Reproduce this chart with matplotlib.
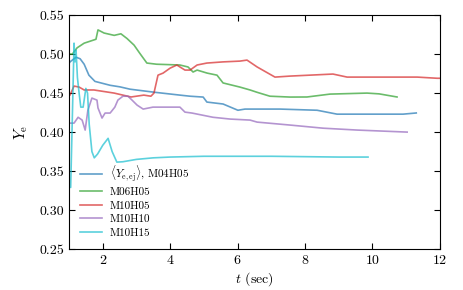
import matplotlib
matplotlib.use("Agg")
import matplotlib.pyplot as plt
import numpy as np

plt.rcParams['font.family'] = 'serif'
plt.rcParams['font.serif'] = ['cmr10']
plt.rcParams['mathtext.fontset'] = 'cm'
plt.rcParams['axes.unicode_minus'] = False
plt.rcParams['axes.formatter.use_mathtext'] = True

labels = [r'$\langle Y_{\rm e,ej}\rangle$, M04H05', 'M06H05', 'M10H05', 'M10H10', 'M10H15']
colors = ['tab:blue', 'tab:green', 'tab:red', 'tab:purple', 'tab:cyan']

t_m04h05 = [1.0, 1.03, 1.21, 1.33, 1.45, 1.59, 1.77, 2.22, 2.51, 2.81, 3.55, 4.29, 4.59, 4.98, 5.09,
            5.57, 6.01, 6.22, 7.26, 8.36, 8.95, 10.91, 11.30]
y_m04h05 = [0.488, 0.490, 0.496, 0.494, 0.487, 0.473, 0.465, 0.460, 0.458, 0.455, 0.451, 0.4474, 0.446,
            0.4449, 0.4385, 0.436, 0.428, 0.4295, 0.4295, 0.428, 0.423, 0.423, 0.4245]

t_m06h05 = [1.0, 1.1, 1.24, 1.45, 1.8, 1.86, 2.04, 2.34, 2.54, 2.72, 2.93, 3.1, 3.31, 3.6, 4.29, 4.53,
            4.68, 4.8, 5.1, 5.39, 5.57, 6.07, 6.37, 6.58, 6.96, 7.56, 8.06, 8.74, 9.84, 10.2, 10.73]
y_m06h05 = [0.500, 0.500, 0.508, 0.514, 0.519, 0.531, 0.527, 0.524, 0.526, 0.520, 0.5115, 0.501, 0.4885,
            0.487, 0.486, 0.4835, 0.477, 0.4795, 0.4756, 0.473, 0.463, 0.4577, 0.454, 0.451, 0.446,
            0.4449, 0.445, 0.4487, 0.450, 0.449, 0.445]

t_m10h05 = [1.0, 1.03, 1.15, 1.3, 1.45, 1.74, 2.34, 2.84, 3.22, 3.43, 3.52, 3.64, 3.79, 4.0, 4.2, 4.29,
            4.44, 4.59, 4.8, 5.09, 5.57, 6.07, 6.28, 6.58, 7.11, 7.56, 8.83, 9.25, 11.33, 11.92, 12.0]
y_m10h05 = [0.450, 0.4474, 0.459, 0.4577, 0.454, 0.454, 0.450, 0.445, 0.4474, 0.446, 0.450, 0.473,
            0.4756, 0.482, 0.486, 0.4835, 0.4795, 0.4795, 0.486, 0.4885, 0.490, 0.491, 0.4923, 0.4835,
            0.4705, 0.4718, 0.4744, 0.4705, 0.4705, 0.469, 0.469]

t_m10h10 = [1.0, 1.15, 1.27, 1.39, 1.48, 1.56, 1.68, 1.83, 1.86, 1.98, 2.07, 2.22, 2.36, 2.45, 2.6,
            2.75, 2.87, 3.02, 3.2, 3.49, 4.29, 4.44, 4.65, 5.27, 5.78, 6.37, 6.58, 7.56, 8.54, 9.55, 11.03]
y_m10h10 = [0.4115, 0.4115, 0.419, 0.4154, 0.4026, 0.428, 0.4436, 0.441, 0.431, 0.418, 0.4244, 0.4244,
            0.432, 0.441, 0.446, 0.446, 0.441, 0.4346, 0.4295, 0.432, 0.432, 0.4256, 0.4244, 0.419,
            0.4167, 0.4154, 0.4128, 0.409, 0.405, 0.4026, 0.400]

t_m10h15 = [1.0, 1.05, 1.1, 1.15, 1.18, 1.21, 1.25, 1.3, 1.35, 1.42, 1.5, 1.55, 1.6, 1.68, 1.75, 1.85,
            2.0, 2.16, 2.28, 2.42, 2.6, 3.0, 3.5, 4.0, 5.0, 6.0, 7.0, 8.0, 9.0, 9.87]
y_m10h15 = [0.338, 0.329, 0.42, 0.514, 0.49, 0.505, 0.47, 0.45, 0.432, 0.432, 0.456, 0.45, 0.41, 0.375,
            0.367, 0.372, 0.383, 0.392, 0.375, 0.3615, 0.362, 0.365, 0.367, 0.368, 0.369, 0.369, 0.369,
            0.3685, 0.368, 0.368]

series_t = [t_m04h05, t_m06h05, t_m10h05, t_m10h10, t_m10h15]
series_y = [y_m04h05, y_m06h05, y_m10h05, y_m10h10, y_m10h15]

xticks = [2, 4, 6, 8, 10, 12]
yticks = [0.25, 0.30, 0.35, 0.40, 0.45, 0.50, 0.55]

fig = plt.figure(figsize=(4.63, 2.90), dpi=100)
ax = fig.add_axes([0.149, 0.141, 0.801, 0.807])
for t, y, lab, c in zip(series_t, series_y, labels, colors):
    ax.plot(t, y, color=c, alpha=0.7, lw=1.2, label=lab)

ax.set_xlim(1, 12)
ax.set_ylim(0.25, 0.55)
ax.set_xticks(xticks)
ax.set_yticks(yticks)
ax.set_yticklabels([f'{v:.2f}' for v in yticks])
ax.tick_params(direction='in', top=True, right=True, length=4, width=0.8, labelsize=10)
ax.set_xlabel(r'$t$ (sec)', fontsize=10, labelpad=2)
ax.set_ylabel(r'$Y_{\rm e}$', fontsize=11, labelpad=7)
ax.legend(loc='lower left', frameon=False, fontsize=8, handlelength=2.0, handletextpad=0.7,
          labelspacing=0.35, borderaxespad=0.6)

fig.savefig('out.png', dpi=100)
